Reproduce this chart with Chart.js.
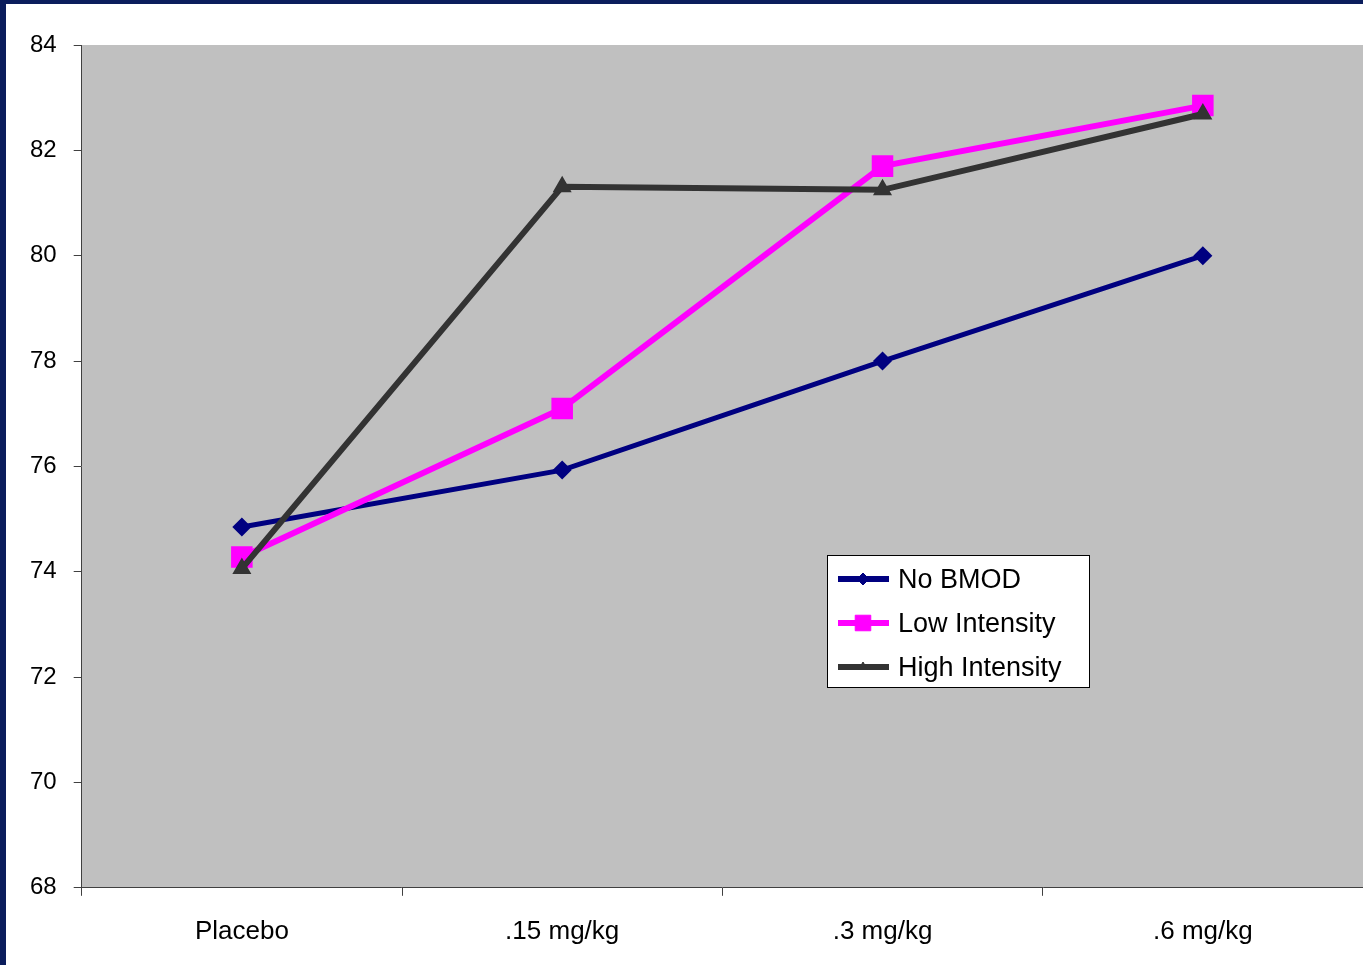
<!DOCTYPE html>
<html>
<head>
<meta charset="utf-8">
<script src="https://cdn.jsdelivr.net/npm/chart.js@4.4.0/dist/chart.umd.min.js"></script>
<style>
  html, body { margin: 0; padding: 0; background: #0b1d5c; overflow: hidden; }
  #wrap { position: absolute; left: 6px; top: 4px; width: 1357px; height: 961px; background: #ffffff; overflow: hidden; }
</style>
</head>
<body>
<div id="wrap"><canvas id="myChart" width="1357" height="963"></canvas></div>
<script>
const ctx = document.getElementById('myChart');

const doses = ['Placebo', '.15 mg/kg', '.3 mg/kg', '.6 mg/kg'];
const noBmod = [74.85, 75.93, 78.0, 80.0];
const lowIntensity = [74.28, 77.1, 81.7, 82.85];
const highIntensity = [74.06, 81.31, 81.25, 82.69];

Chart.defaults.font.family = '"Liberation Sans", Arial, sans-serif';
Chart.defaults.font.size = 24;
Chart.defaults.color = "#000000";

// grey plot area
const plotBg = {
  id: 'plotBg',
  beforeDraw(chart) {
    const a = chart.chartArea;
    const c = chart.ctx;
    c.save();
    c.fillStyle = "#c0c0c0";
    c.fillRect(a.left, a.top, a.right - a.left, a.bottom - a.top);
    c.restore();
  }
};

// boxed legend sitting inside the plot
const boxLegend = {
  id: 'boxLegend',
  afterDraw(chart) {
    const c = chart.ctx;
    const x = 821, y = 551, w = 262, h = 132;
    c.save();
    c.fillStyle = "#ffffff";
    c.fillRect(x, y, w, h);
    c.strokeStyle = "#000000";
    c.lineWidth = 1;
    c.strokeRect(x + 0.5, y + 0.5, w, h);
    c.font = '27px "Liberation Sans", Arial, sans-serif';
    c.textBaseline = 'middle';
    chart.data.datasets.forEach((ds, i) => {
      const cy = y + 24 + i * 44;
      c.strokeStyle = ds.borderColor;
      c.lineWidth = 6;
      c.beginPath();
      c.moveTo(x + 11, cy);
      c.lineTo(x + 62, cy);
      c.stroke();
      c.fillStyle = ds.pointBackgroundColor;
      c.strokeStyle = ds.borderColor;
      c.lineWidth = 1;
      Chart.helpers.drawPoint(c, { pointStyle: ds.pointStyle, radius: ds.pointRadius, borderWidth: 1 }, x + 36, cy);
      c.fillStyle = "#000000";
      c.fillText(ds.label, x + 71, cy + 2);
    });
    c.restore();
  }
};

new Chart(ctx, {
  type: 'line',
  data: {
    labels: doses,
    datasets: [{
      label: 'No BMOD',
      data: noBmod,
      borderColor: "#000080",
      backgroundColor: "#000080",
      pointBackgroundColor: "#000080",
      borderWidth: 5,
      pointStyle: 'rectRot',
      pointRadius: 6,
      order: 2
    }, {
      label: 'Low Intensity',
      data: lowIntensity,
      borderColor: "#ff00ff",
      backgroundColor: "#ff00ff",
      pointBackgroundColor: "#ff00ff",
      borderWidth: 6,
      pointStyle: 'rect',
      pointRadius: 11,
      order: 1
    }, {
      label: 'High Intensity',
      data: highIntensity,
      borderColor: "#333333",
      backgroundColor: "#333333",
      pointBackgroundColor: "#333333",
      borderWidth: 6,
      pointStyle: 'triangle',
      pointRadius: 5,
      order: 0
    }]
  },
  options: {
    responsive: false,
    animation: false,
    tension: 0,
    layout: { autoPadding: false, padding: { left: 7, top: 41, right: 0, bottom: 0 } },
    plugins: {
      legend: { display: false },
      tooltip: { enabled: false }
    },
    scales: {
      x: {
        offset: true,
        grid: { offset: true, drawOnChartArea: false, drawTicks: true, tickLength: 8, color: "#404040" },
        border: { color: "#404040", width: 1 },
        ticks: { padding: 20, font: { size: 26 } }
      },
      y: {
        min: 68,
        max: 84,
        grid: { drawOnChartArea: false, drawTicks: true, tickLength: 8, color: "#404040" },
        border: { color: "#404040", width: 1 },
        ticks: { stepSize: 2, padding: 17, font: { size: 24 } }
      }
    }
  },
  plugins: [plotBg, boxLegend]
});
</script>
</body>
</html>
